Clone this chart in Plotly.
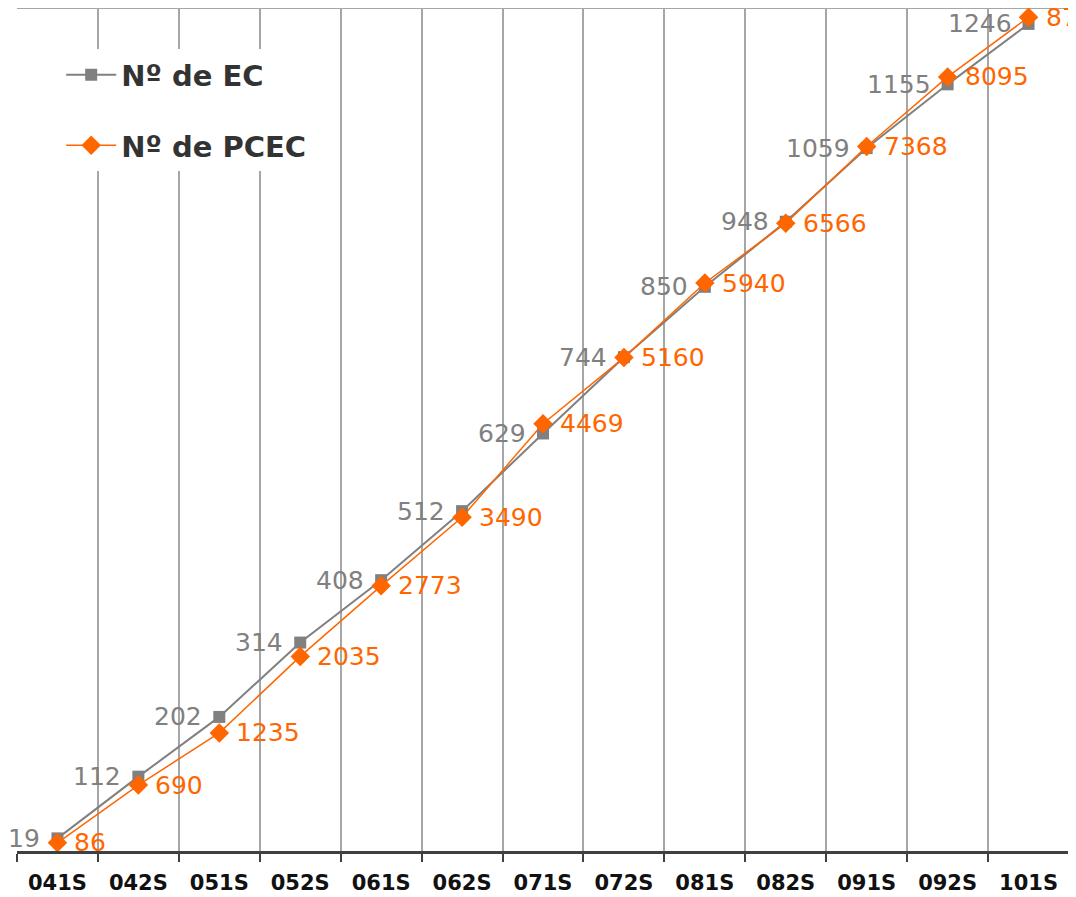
import plotly.graph_objects as go

categories = ["041S", "042S", "051S", "052S", "061S", "062S", "071S",
              "072S", "081S", "082S", "091S", "092S", "101S"]
ec_values = [19, 112, 202, 314, 408, 512, 629, 744, 850, 948, 1059, 1155, 1246]
pcec_values = [86, 690, 1235, 2035, 2773, 3490, 4469, 5160, 5940, 6566, 7368, 8095, 8720]

GRAY = "#808080"
ORANGE = "#ff6600"
FONT = "DejaVu Sans, Verdana, sans-serif"

fig = go.Figure()
fig.add_trace(go.Scatter(
    x=categories, y=ec_values, name="Nº de EC", mode="lines+markers",
    line=dict(color=GRAY, width=2),
    marker=dict(symbol="square", size=12, color=GRAY),
    cliponaxis=False, legendgroup="a", yaxis="y",
))
fig.add_trace(go.Scatter(
    x=categories, y=pcec_values, name="Nº de PCEC", mode="lines+markers",
    line=dict(color=ORANGE, width=1.5),
    marker=dict(symbol="diamond", size=15, color=ORANGE),
    cliponaxis=False, legendgroup="b", yaxis="y2",
))

annotations = []
for c, v in zip(categories, ec_values):
    annotations.append(dict(x=c, y=v, xref="x", yref="y", text=str(v),
                            showarrow=False, xanchor="right", yanchor="middle",
                            xshift=-15, font=dict(family=FONT, size=25, color=GRAY)))
for c, v in zip(categories, pcec_values):
    annotations.append(dict(x=c, y=v, xref="x", yref="y2", text=str(v),
                            showarrow=False, xanchor="left", yanchor="middle",
                            xshift=15, font=dict(family=FONT, size=25, color=ORANGE)))

fig.update_layout(
    width=1076, height=897,
    margin=dict(l=9, r=15, t=0, b=54),
    paper_bgcolor="white", plot_bgcolor="white",
    showlegend=True,
    annotations=annotations,
    legend=dict(
        x=0.042, y=0.951, xanchor="left", yanchor="top",
        bgcolor="white", borderwidth=0,
        font=dict(family=FONT, size=29, color="#333333", weight="bold"),
        itemwidth=50, traceorder="grouped", tracegroupgap=30,
    ),
    xaxis=dict(
        type="category", tickson="boundaries", range=[-0.5, 12.5],
        showgrid=True, gridcolor="#a6a6a6", gridwidth=1.5,
        showline=True, linecolor="#404040", linewidth=2.5,
        ticks="outside", ticklen=8, tickwidth=2, tickcolor="#404040",
        tickfont=dict(family=FONT, size=21, color="#111111", weight="bold"),
        ticklabelstandoff=11, zeroline=False,
    ),
    yaxis=dict(range=[0, 1270], visible=False, showgrid=False, zeroline=False),
    yaxis2=dict(range=[0, 8816], overlaying="y", side="right", visible=False,
                showgrid=False, zeroline=False),
    shapes=[dict(type="line", xref="paper", yref="paper", x0=0, x1=1, y0=1, y1=1,
                 line=dict(color="#a6a6a6", width=2), layer="below")],
)

fig.write_html("out.html")
